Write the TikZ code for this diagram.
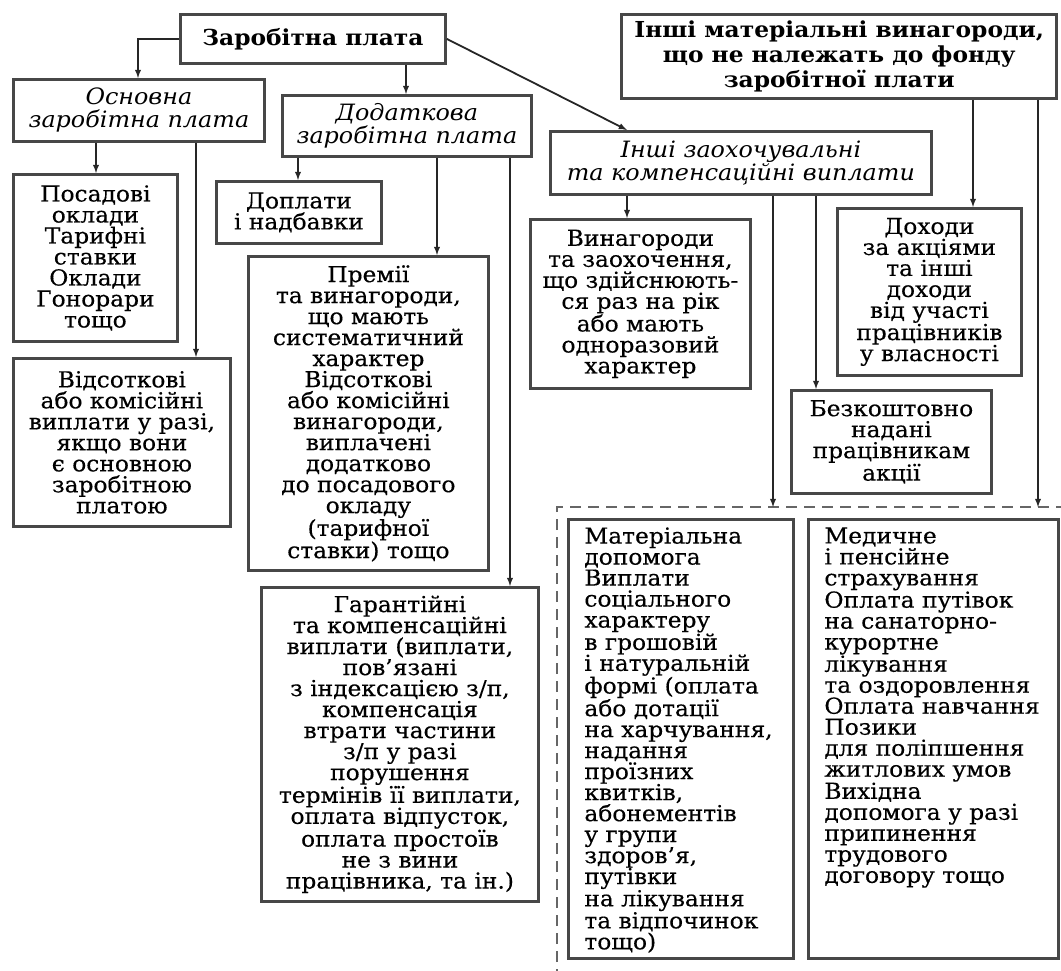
\documentclass[tikz,border=0pt]{standalone}
\usepackage{fontspec}
\setmainfont{DejaVu Serif}[FakeStretch=1.06,UprightFeatures={FakeBold=0.4}]
\usetikzlibrary{calc}
\tikzset{>=latex}
\newcommand\bodyfont{\fontsize{22}{21}\selectfont}
\newcommand\subfont{\fontsize{22.5}{23}\selectfont\itshape}
\newcommand\mainfont{\fontsize{22}{25}\selectfont\bfseries}
\newcommand\topbox[3]{\parbox[c][#2][t]{#1}{\raggedright #3}}
\tikzstyle{box}=[draw=black!72,line width=2.8pt,inner sep=0pt,anchor=north west,align=center,font=\bodyfont]
\tikzstyle{subhead}=[box,font=\subfont]
\tikzstyle{mainhead}=[box,font=\mainfont]
\tikzstyle{arr}=[->,line width=1.8pt,black!85]
\tikzstyle{grp}=[dash pattern=on 11pt off 7pt,line width=2.6pt,black!60]

\begin{document}
\begin{tikzpicture}[x=1pt,y=-1pt]
  \useasboundingbox (0,0) rectangle (1061,971);

  % HEADS
  \node[mainhead,minimum width=265,minimum height=49] (top) at (179,13) {Заробітна плата};
  \node[mainhead,line width=3.4pt,minimum width=435,minimum height=84] (inshi) at (620,13)
    {Інші матеріальні винагороди,\\що не належать до фонду\\заробітної плати};
  \node[subhead,minimum width=251,minimum height=62] (osn) at (12,78) {Основна\\заробітна плата};
  \node[subhead,minimum width=249,minimum height=61] (dod) at (281,94) {Додаткова\\заробітна плата};
  \node[subhead,minimum width=381,minimum height=63] (zaokh) at (549,130)
    {Інші заохочувальні\\та компенсаційні виплати};

  % ITEMS
  \node[box,minimum width=164,minimum height=167] (pos) at (12,173)
    {Посадові\\оклади\\Тарифні\\ставки\\Оклади\\Гонорари\\тощо};
  \node[box,minimum width=217,minimum height=168] (vids) at (12,357)
    {Відсоткові\\або комісійні\\виплати у разі,\\якщо вони\\є основною\\заробітною\\платою};
  \node[box,minimum width=165,minimum height=62] (dopl) at (215,180) {Доплати\\і надбавки};
  \node[box,minimum width=240,minimum height=314] (prem) at (247,255)
    {Премії\\та винагороди,\\що мають\\систематичний\\характер\\Відсоткові\\або комісійні\\винагороди,\\виплачені\\додатково\\до посадового\\окладу\\(тарифної\\ставки) тощо};
  \node[box,minimum width=277,minimum height=314] (gar) at (260,586)
    {Гарантійні\\та компенсаційні\\виплати (виплати,\\пов’язані\\з індексацією з/п,\\компенсація\\втрати частини\\з/п у разі\\порушення\\термінів її виплати,\\оплата відпусток,\\оплата простоїв\\не з вини\\працівника, та ін.)};
  \node[box,minimum width=220,minimum height=169] (vyn) at (529,218)
    {Винагороди\\та заохочення,\\що здійснюють-\\ся раз на рік\\або мають\\одноразовий\\характер};
  \node[box,minimum width=184,minimum height=167] (dokh) at (836,207)
    {Доходи\\за акціями\\та інші\\доходи\\від участі\\працівників\\у власності};
  \node[box,minimum width=200,minimum height=103] (bez) at (790,389)
    {Безкоштовно\\надані\\працівникам\\акції};

  % SOCIAL GROUP
  \coordinate (soc) at (557,507);
  \draw[grp] (557,980) -- (soc) -- (1070,507);
  \node[box,inner xsep=16pt,inner ysep=8pt] (matd) at (567,518)
    {\topbox{193pt}{423pt}{Матеріальна\\допомога\\Виплати\\соціального\\характеру\\в грошовій\\і натуральній\\формі (оплата\\або дотації\\на харчування,\\надання\\проїзних\\квитків,\\абонементів\\у групи\\здоров’я,\\путівки\\на лікування\\та відпочинок\\тощо)}};
  \node[box,inner xsep=16pt,inner ysep=8pt] (med) at (807,518)
    {\topbox{218pt}{423pt}{Медичне\\і пенсійне\\страхування\\Оплата путівок\\на санаторно-\\курортне\\лікування\\та оздоровлення\\Оплата навчання\\Позики\\для поліпшення\\житлових умов\\Вихідна\\допомога у разі\\припинення\\трудового\\договору тощо}};

  % ARROWS
  \draw[arr] (top.west) -| ([xshift=126]osn.north west);
  \draw[arr] ([xshift=227]top.south west) -- ([xshift=125]dod.north west);
  \draw[arr] (top.east) -- ([xshift=78]zaokh.north west);
  \draw[arr] ([xshift=84]osn.south west) -- ([xshift=84]pos.north west);
  \draw[arr] ([xshift=184]osn.south west) -- ([xshift=184]vids.north west);
  \draw[arr] ([xshift=17]dod.south west) -- ([xshift=83]dopl.north west);
  \draw[arr] ([xshift=156]dod.south west) -- ([xshift=190]prem.north west);
  \draw[arr] ([xshift=229]dod.south west) -- ([xshift=250]gar.north west);
  \draw[arr] ([xshift=78]zaokh.south west) -- ([xshift=98]vyn.north west);
  \draw[arr] ([xshift=224]zaokh.south west) coordinate (z1) -- (z1 |- soc);
  \draw[arr] ([xshift=267]zaokh.south west) -- ([xshift=26]bez.north west);
  \draw[arr] ([xshift=353]inshi.south west) -- ([xshift=137]dokh.north west);
  \draw[arr] ([xshift=418]inshi.south west) coordinate (z2) -- (z2 |- soc);
\end{tikzpicture}
\end{document}
